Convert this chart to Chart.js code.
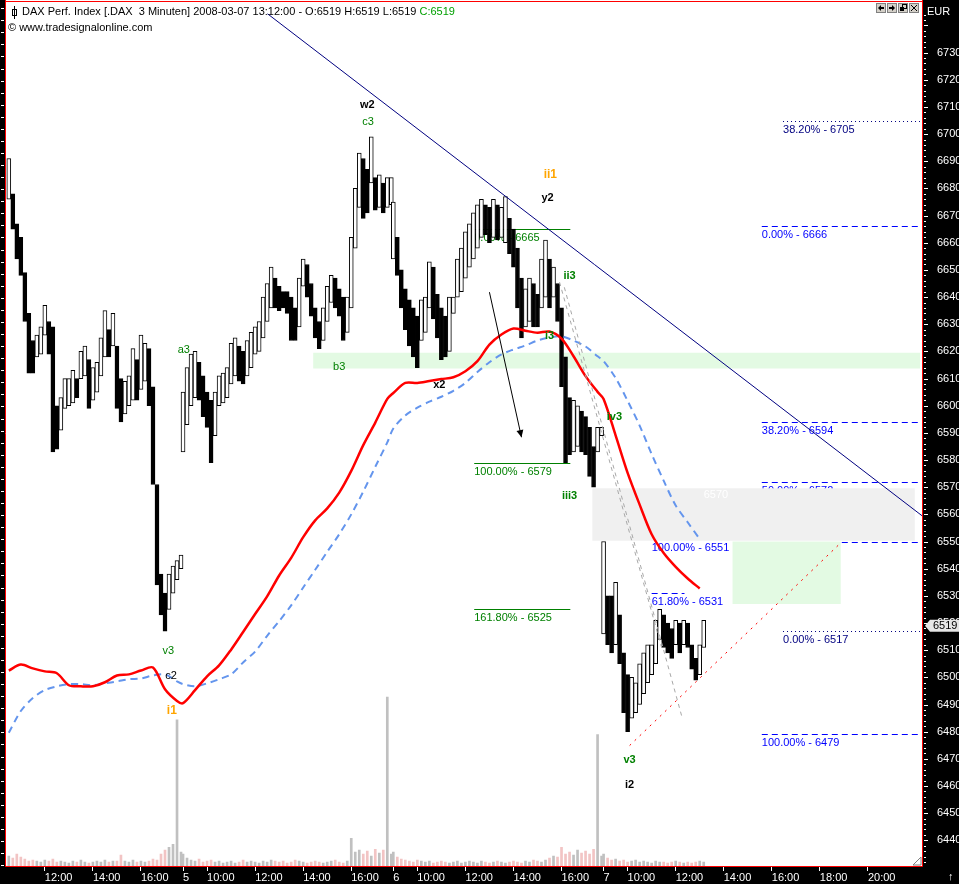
<!DOCTYPE html>
<html>
<head>
<meta charset="utf-8">
<script src="https://cdn.jsdelivr.net/npm/chart.js@4.4.1/dist/chart.umd.min.js"></script>
<style>
html, body { margin: 0; padding: 0; background: #fff; overflow: hidden; }
canvas { display: block; }
</style>
</head>
<body>
<canvas id="daxChart" width="959" height="884"></canvas>
<script>
const FONT = '"Liberation Sans", Arial, sans-serif';

// [low, high] per 10 minutes
const bars4 = [[6676,6691],[6665,6678],[6654,6667],[6648,6662],[6631,6649],[6612,6634],[6612,6624],[6618,6626],[6619,6629],[6626,6637],
	[6619,6631],[6583,6629],[6584,6600],[6591,6603],[6599,6610],[6600,6610],[6601,6613],[6603,6610],[6610,6620],[6611,6622],
	[6599,6617],[6602,6614],[6605,6616],[6611,6625],[6618,6635],[6618,6628],[6622,6634],[6599,6622],[6594,6610],[6597,6609],
	[6600,6611],[6602,6621],[6602,6617],[6606,6626],[6609,6623],[6600,6621],[6571,6607],[6534,6571],[6523,6538],[6517,6531],
	[6525,6538],[6531,6541],[6536,6543],[6540,6545]];
const bars5 = [[6583,6605],[6593,6614],[6600,6619],[6603,6620],[6602,6616],[6596,6611],[6592,6605],[6579,6602],[6589,6605],[6600,6611],
	[6601,6612],[6603,6614],[6608,6623],[6611,6625],[6609,6622],[6608,6620],[6611,6624],[6614,6627],[6619,6629],[6620,6631],
	[6625,6640],[6631,6645],[6636,6651],[6636,6647],[6635,6644],[6636,6642],[6634,6642],[6624,6640],[6624,6636],[6629,6647],
	[6644,6654],[6640,6652],[6633,6645],[6625,6636],[6621,6631],[6624,6636],[6631,6644],[6638,6648],[6636,6647],[6633,6643],
	[6624,6640],[6627,6640],[6636,6662],[6658,6680],[6673,6693],[6669,6691],[6671,6687],[6682,6699],[6672,6684],[6673,6685],
	[6671,6682],[6673,6684],[6674,6684]];
const bars6 = [[6654,6675],[6648,6662],[6636,6650],[6628,6643],[6622,6639],[6618,6636],[6614,6633],[6624,6639],[6627,6640],[6636,6653],
	[6632,6651],[6625,6641],[6617,6636],[6618,6633],[6620,6640],[6634,6640],[6640,6654],[6642,6658],[6647,6664],[6651,6667],
	[6654,6671],[6658,6674],[6662,6676],[6663,6674],[6660,6673],[6662,6676],[6661,6674],[6662,6673],[6660,6677],[6656,6669],
	[6651,6665],[6636,6658],[6625,6647],[6629,6643],[6631,6647],[6629,6645],[6629,6641],[6636,6654],[6640,6661],[6636,6654],
	[6640,6651],[6631,6645],[6607,6636],[6579,6618],[6582,6603],[6583,6602],[6585,6600],[6583,6598],[6582,6596],[6574,6592],
	[6570,6585],[6583,6592],[6589,6592]];
const bars7 = [[6516,6550],[6512,6530],[6509,6530],[6512,6535],[6505,6523],[6487,6509],[6480,6501],[6485,6500],[6487,6498],[6490,6505],
	[6494,6509],[6498,6512],[6501,6512],[6505,6521],[6514,6525],[6511,6523],[6509,6520],[6507,6518],[6512,6521],[6509,6520],
	[6512,6521],[6511,6520],[6503,6512],[6499,6507],[6501,6512],[6511,6521]];

// volume per 10 minutes (arbitrary units)
const vol4 = [10,8,12,9,7,5,6,5,4,6,5,7,4,5,4,3,5,4,6,4,3,4,5,4,6,4,5,5,11,5,4,6,4,5,4,5,7,6,12,16,19,22,148,14];
const vol5 = [12,8,6,5,7,4,5,6,4,5,3,4,5,3,4,6,4,5,4,3,5,4,6,5,4,5,3,4,6,5,4,3,4,5,4,3,4,5,6,4,3,5,28,14,16,12,15,10,17,13,16,171,12];
const vol6 = [14,9,7,6,5,4,6,5,4,5,3,4,5,4,3,4,5,3,4,5,4,3,5,4,3,4,5,4,3,4,5,4,3,5,4,6,5,4,6,8,10,9,19,12,14,11,16,13,15,12,17,133,10];
const vol7 = [12,8,6,7,5,6,4,5,6,4,5,4,3,5,4,4,3,4,5,4,3,4,3,4,5,4];

// moving averages, every 30 minutes
const maRed4 = [6502.5,6504.7,6503.3,6502.2,6501.5,6497.1,6496.7,6496.7,6498.2,6500.7,6501.1,6502.5,6503.6,6495.6,6491.3];
const maRed5 = [6490.5,6495.3,6500.4,6504.4,6510.2,6516.7,6523.3,6529.8,6537.5,6544.0,6551.6,6557.8,6562.2,6568.0,6576.0,6585.5,6593.8,6602.5];
const maRed6 = [6604.7,6608.4,6608.4,6609.1,6609.8,6610.5,6612.7,6616.4,6622.5,6626.2,6628.4,6627.6,6626.9,6627.3,6624.7,6618.2,6610.9,6605.1];
const maRed7 = [6602.5,6589.1,6575.3,6563.6,6552.7,6545.8,6540.7,6536.4,6532.7];
const maBlue4 = [6479.6,6487.6,6492.4,6495.3,6496.7,6497.5,6497.5,6497.1,6497.8,6498.5,6499.3,6499.6,6500.7,6501.1,6498.5];
const maBlue5 = [6497.5,6496.7,6497.8,6499.3,6501.1,6505.5,6509.5,6515.3,6520.7,6526.5,6533.1,6539.6,6546.2,6552.7,6560.0,6568.4,6577.5,6586.5];
const maBlue6 = [6591.6,6596.4,6599.3,6601.5,6603.3,6605.5,6608.4,6612.4,6616.0,6618.9,6620.7,6622.2,6624.0,6625.1,6625.5,6624.0,6621.8,6618.2];
const maBlue7 = [6616.4,6610.2,6601.8,6592.7,6582.2,6572.4,6563.3,6557.1,6550.9];

const sessions = [
	{ day: 4, start: '10:30', bars: bars4, vol: vol4, red: maRed4, blue: maBlue4 },
	{ day: 5, start: '09:00', bars: bars5, vol: vol5, red: maRed5, blue: maBlue5 },
	{ day: 6, start: '09:00', bars: bars6, vol: vol6, red: maRed6, blue: maBlue6 },
	{ day: 7, start: '09:00', bars: bars7, vol: vol7, red: maRed7, blue: maBlue7 },
];

// axis
const priceTicks = [6440,6450,6460,6470,6480,6490,6500,6510,6520,6530,6540,6550,6560,6570,6580,6590,6600,6610,6620,6630,6640,6650,6660,6670,6680,6690,6700,6710,6720,6730];
const timeTicks = [
	[4,'12:00','12:00'],[4,'14:00','14:00'],[4,'16:00','16:00'],
	[5,'09:00','5'],[5,'10:00','10:00'],[5,'12:00','12:00'],[5,'14:00','14:00'],[5,'16:00','16:00'],
	[6,'09:00','6'],[6,'10:00','10:00'],[6,'12:00','12:00'],[6,'14:00','14:00'],[6,'16:00','16:00'],
	[7,'09:00','7'],[7,'10:00','10:00'],[7,'12:00','12:00'],[7,'14:00','14:00'],[7,'16:00','16:00'],[7,'18:00','18:00'],[7,'20:00','20:00'],
];

// drawings
const zones = [
	{ from: [5,'14:25'], to: [7,'22:10'], top: 6619.5, bottom: 6613.7, color: '#e3fae3' },
	{ from: [6,'17:17'], to: [7,'21:57'], top: 6569.6, bottom: 6550.3, color: '#f0f0f0', text: '6570', textAt: [7,'13:10'] },
	{ from: [7,'14:22'], to: [7,'18:52'], top: 6550.0, bottom: 6527.0, color: '#e3fae3' },
];
const fibGreen = [['0.00%',6665],['100.00%',6579],['161.80%',6525]];
const fibRight = [['0.00%',6666],['38.20%',6594],['50.00%',6572],['61.80%',6550],['100.00%',6479]];
const fibOuter = [['38.20%',6705],['0.00%',6517]];
const fibMid = [['100.00%',6551],['61.80%',6531]];
const fibGroups = [
	{ levels: fibGreen, from: [6,'12:22'], to: [6,'16:22'], color: '#008000', dash: [], label: '#008000' },
	{ levels: fibRight, from: [7,'15:35'], to: [7,'22:05'], color: '#0000ff', dash: [6,4], label: '#0000ff' },
	{ levels: fibOuter, from: [7,'16:28'], to: [7,'22:10'], color: '#000080', dash: [1,3], label: '#000080' },
	{ levels: fibMid, from: [7,'11:00'], to: [7,'12:22'], color: '#0000ff', dash: [6,4], label: '#0000ff' },
];
const waveLabels = [
	['w2', 5,'16:40', 6710.9, '#000', true],
	['c3', 5,'16:42', 6704.4, '#008000', false],
	['a3', 5,'09:02', 6620.7, '#008000', false],
	['b3', 5,'15:30', 6614.2, '#008000', false],
	['x2', 6,'10:55', 6607.6, '#000', true],
	['ii1', 6,'15:32', 6685.1, '#ffa500', true],
	['y2', 6,'15:25', 6676.4, '#000', true],
	['ii3', 6,'16:20', 6647.6, '#008000', true],
	['i3', 6,'15:30', 6625.5, '#008000', true],
	['iv3', 7,'09:27', 6596.0, '#008000', true],
	['iii3', 6,'16:20', 6566.9, '#008000', true],
	['v3', 7,'10:05', 6469.5, '#008000', true],
	['i2', 7,'10:05', 6460.4, '#000', true],
	['v3', 4,'17:08', 6509.8, '#008000', false],
	['c2', 4,'17:15', 6500.4, '#000', false],
	['i1', 4,'17:17', 6487.6, '#ffa500', true],
];
const trendLine = [[5,'12:30',6744.4],[7,'22:15',6559.5]];
const supportLine = [[7,'10:05',6474.9],[7,'18:52',6549.5]];
const grayLineA = [[6,'15:55',6645.5],[7,'11:25',6510.9]];
const grayLineB = [[6,'16:07',6643.6],[7,'12:17',6484.7]];
const arrowLine = [[6,'13:00',6641.8],[6,'14:20',6588.4]];

// trading time in hours from 5 March 09:00, sessions 09:00-17:45
function tpos(day, hhmm) {
	const [h, m] = hhmm.split(':').map(Number);
	return (day - 5) * 8.75 + h + m / 60 - 9;
}
const pt = (p) => ({ x: tpos(p[0], p[1]), y: p[2] });

const candles = [], candleFill = [], volume = [], volColors = [], redMa = [], blueMa = [];
sessions.forEach((s) => {
	const t0 = tpos(s.day, s.start);
	s.bars.forEach((b, i) => {
		const prev = i > 0 ? s.bars[i - 1] : b;
		const falling = b[0] + b[1] < prev[0] + prev[1];
		candles.push({ x: t0 + i / 6, y: b });
		candleFill.push(falling ? '#000' : '#fff');
		volume.push({ x: t0 + i / 6, y: s.vol[i] });
		volColors.push(falling ? '#f2c4c4' : '#c0c0c0');
	});
	s.red.forEach((v, i) => redMa.push({ x: t0 + i / 2, y: v }));
	s.blue.forEach((v, i) => blueMa.push({ x: t0 + i / 2, y: v }));
});

const tickLabelFor = {};
timeTicks.forEach((t) => { tickLabelFor[tpos(t[0], t[1]).toFixed(4)] = t[2]; });

const overlay = {
	id: 'overlay',
	beforeDraw(chart) {
		const { ctx, chartArea: a, width, height } = chart;
		ctx.save();
		ctx.fillStyle = '#fff';
		ctx.fillRect(0, 0, width, height);
		ctx.fillStyle = '#000';
		ctx.fillRect(a.right, 0, width - a.right, height);
		ctx.fillRect(0, a.bottom, width, height - a.bottom);
		ctx.fillRect(0, 0, a.left - 1, height);
		ctx.restore();
	},
	beforeDatasetsDraw(chart) {
		const { ctx, chartArea: a, scales: { x, y } } = chart;
		ctx.save();
		ctx.beginPath();
		ctx.rect(a.left, a.top, a.right - a.left, a.bottom - a.top);
		ctx.clip();
		// fib lines first, zones cover the 61.8 line like in the source
		fibGroups.forEach((g) => {
			const x1 = x.getPixelForValue(tpos(...g.from));
			const x2 = x.getPixelForValue(tpos(...g.to));
			g.levels.forEach(([pct, v]) => {
				const yy = Math.round(y.getPixelForValue(v)) + 0.5;
				ctx.strokeStyle = g.color;
				ctx.lineWidth = 1;
				ctx.setLineDash(g.dash);
				ctx.beginPath();
				ctx.moveTo(x1, yy);
				ctx.lineTo(x2, yy);
				ctx.stroke();
				ctx.setLineDash([]);
				ctx.fillStyle = g.label;
				ctx.font = '11px ' + FONT;
				ctx.textBaseline = 'top';
				ctx.textAlign = 'left';
				ctx.fillText(pct + ' - ' + v, x1, yy + 3);
			});
		});
		zones.forEach((z) => {
			const x1 = x.getPixelForValue(tpos(...z.from));
			const x2 = x.getPixelForValue(tpos(...z.to));
			const y1 = y.getPixelForValue(z.top);
			const y2 = y.getPixelForValue(z.bottom);
			ctx.fillStyle = z.color;
			ctx.fillRect(x1, y1, x2 - x1, y2 - y1);
			if (z.text) {
				ctx.fillStyle = '#fff';
				ctx.font = '11px ' + FONT;
				ctx.textBaseline = 'middle';
				ctx.fillText(z.text, x.getPixelForValue(tpos(...z.textAt)), y1 + 7);
			}
		});
		ctx.restore();
	},
	afterDatasetsDraw(chart) {
		const { ctx, chartArea: a, scales: { x, y } } = chart;
		ctx.save();
		// arrow
		const p1 = pt(arrowLine[0]), p2 = pt(arrowLine[1]);
		const ax1 = x.getPixelForValue(p1.x), ay1 = y.getPixelForValue(p1.y);
		const ax2 = x.getPixelForValue(p2.x), ay2 = y.getPixelForValue(p2.y);
		ctx.strokeStyle = '#000';
		ctx.lineWidth = 1;
		ctx.beginPath();
		ctx.moveTo(ax1, ay1);
		ctx.lineTo(ax2, ay2);
		ctx.stroke();
		const ang = Math.atan2(ay2 - ay1, ax2 - ax1);
		ctx.beginPath();
		ctx.moveTo(ax2, ay2);
		ctx.lineTo(ax2 - 8 * Math.cos(ang - 0.45), ay2 - 8 * Math.sin(ang - 0.45));
		ctx.lineTo(ax2 - 8 * Math.cos(ang + 0.45), ay2 - 8 * Math.sin(ang + 0.45));
		ctx.closePath();
		ctx.fillStyle = '#000';
		ctx.fill();
		// wave labels
		ctx.textAlign = 'center';
		ctx.textBaseline = 'middle';
		waveLabels.forEach(([t, d, hm, v, c, bold]) => {
			ctx.font = (bold ? 'bold ' : '') + (c === '#ffa500' ? '12px ' : '11px ') + FONT;
			ctx.fillStyle = c;
			ctx.fillText(t, x.getPixelForValue(tpos(d, hm)), y.getPixelForValue(v));
		});
		// red frame
		ctx.strokeStyle = '#ff0000';
		ctx.lineWidth = 1;
		ctx.beginPath();
		ctx.moveTo(a.left - 0.5, 0);
		ctx.lineTo(a.left - 0.5, a.bottom + 0.5);
		ctx.lineTo(a.right + 0.5, a.bottom + 0.5);
		ctx.lineTo(a.right + 0.5, 0);
		ctx.moveTo(a.left - 0.5, 1.5);
		ctx.lineTo(a.right + 0.5, 1.5);
		ctx.stroke();
		ctx.restore();
	},
	afterDraw(chart) {
		const { ctx, chartArea: a, scales: { y }, width } = chart;
		ctx.save();
		// title
		ctx.font = '11px ' + FONT;
		ctx.textBaseline = 'middle';
		ctx.textAlign = 'left';
		ctx.fillStyle = '#000';
		const head = 'DAX Perf. Index [.DAX  3 Minuten] 2008-03-07 13:12:00 - O:6519 H:6519 L:6519 ';
		ctx.fillText(head, 22, 12);
		ctx.fillStyle = '#00a000';
		ctx.fillText('C:6519', 22 + ctx.measureText(head).width, 12);
		ctx.fillStyle = '#000';
		ctx.fillText('\u00a9 www.tradesignalonline.com', 8, 28);
		ctx.strokeStyle = '#000';
		ctx.beginPath();
		ctx.moveTo(14.5, 6); ctx.lineTo(14.5, 19);
		ctx.stroke();
		ctx.strokeRect(12.5, 9.5, 4, 6);
		// window buttons
		for (let i = 0; i < 4; i++) {
			const bx = 876 + i * 11;
			ctx.fillStyle = '#d4d0c8';
			ctx.fillRect(bx, 3, 10, 10);
			ctx.strokeStyle = '#808080';
			ctx.strokeRect(bx + 0.5, 3.5, 9, 9);
			ctx.fillStyle = '#000';
			ctx.strokeStyle = '#000';
			ctx.beginPath();
			if (i === 0) { ctx.moveTo(bx + 2, 8); ctx.lineTo(bx + 5, 5); ctx.lineTo(bx + 5, 11); ctx.fill(); ctx.fillRect(bx + 5, 7, 3, 2); }
			if (i === 1) { ctx.moveTo(bx + 8, 8); ctx.lineTo(bx + 5, 5); ctx.lineTo(bx + 5, 11); ctx.fill(); ctx.fillRect(bx + 2, 7, 3, 2); }
			if (i === 2) { ctx.strokeRect(bx + 4.5, 4.5, 4, 4); ctx.fillRect(bx + 2, 7, 4, 4); }
			if (i === 3) { ctx.moveTo(bx + 2, 5); ctx.lineTo(bx + 8, 11); ctx.moveTo(bx + 8, 5); ctx.lineTo(bx + 2, 11); ctx.stroke(); }
		}
		// right axis marks
		ctx.fillStyle = '#fff';
		for (let v = 6432; v <= 6744; v += 2) {
			const yy = Math.round(y.getPixelForValue(v));
			const major = v % 10 === 0;
			ctx.fillRect(a.right + 2, yy, major ? 4 : 2, 1);
		}
		ctx.fillText('EUR', a.right + 5, 12);
		// left strip marks
		for (let yy = 153 - 12.07 * 12; yy < a.bottom; yy += 12.07) ctx.fillRect(1, Math.round(yy), 3, 1);
		// last price marker
		const ly = y.getPixelForValue(6519);
		ctx.fillStyle = '#e6e6e6';
		ctx.beginPath();
		ctx.moveTo(a.right + 3, ly);
		ctx.lineTo(a.right + 8, ly - 6);
		ctx.lineTo(width, ly - 6);
		ctx.lineTo(width, ly + 6);
		ctx.lineTo(a.right + 8, ly + 6);
		ctx.closePath();
		ctx.fill();
		ctx.fillStyle = '#000';
		ctx.fillText('6519', a.right + 11, ly);
		// corner
		ctx.fillStyle = '#fff';
		ctx.fillText('\u2191', 948, 877);
		ctx.strokeStyle = '#808080';
		ctx.beginPath();
		ctx.moveTo(a.right - 1, a.bottom - 9);
		ctx.lineTo(a.right - 9, a.bottom - 1);
		ctx.lineTo(a.right - 1, a.bottom - 1);
		ctx.closePath();
		ctx.stroke();
		ctx.restore();
	},
};

new Chart(document.getElementById('daxChart'), {
	data: {
		datasets: [
			{ type: 'line', data: [pt(trendLine[0]), pt(trendLine[1])], borderColor: '#000080', borderWidth: 1, pointRadius: 0, order: 1 },
			{ type: 'line', data: [pt(supportLine[0]), pt(supportLine[1])], borderColor: '#ff0000', borderWidth: 1, borderDash: [2, 5], pointRadius: 0, order: 1 },
			{ type: 'line', data: [pt(grayLineA[0]), pt(grayLineA[1])], borderColor: '#a8a8a8', borderWidth: 1, borderDash: [4, 4], pointRadius: 0, order: 1 },
			{ type: 'line', data: [pt(grayLineB[0]), pt(grayLineB[1])], borderColor: '#a8a8a8', borderWidth: 1, borderDash: [4, 4], pointRadius: 0, order: 1 },
			{ type: 'line', data: redMa, borderColor: '#ff0000', borderWidth: 2.5, pointRadius: 0, tension: 0.3, order: 2 },
			{ type: 'line', data: blueMa, borderColor: '#6495ed', borderWidth: 2, borderDash: [7, 5], pointRadius: 0, tension: 0.3, order: 3 },
			{ type: 'bar', data: candles, backgroundColor: candleFill, borderColor: '#000', borderWidth: 1, borderSkipped: false, barThickness: 4, grouped: false, order: 4 },
			{ type: 'bar', data: volume, yAxisID: 'vol', backgroundColor: volColors, barThickness: 2, grouped: false, order: 6 },
		],
	},
	options: {
		responsive: false,
		animation: false,
		events: [],
		layout: { padding: { left: 6, top: 3, right: 0, bottom: 0 } },
		plugins: { legend: { display: false }, tooltip: { enabled: false } },
		scales: {
			x: {
				type: 'linear',
				offset: false,
				min: tpos(4, '10:23'),
				max: tpos(7, '22:15'),
				afterBuildTicks: (s) => { s.ticks = timeTicks.map((t) => ({ value: tpos(t[0], t[1]) })); },
				afterFit: (s) => { s.height = 18; },
				ticks: {
					color: '#fff', align: 'start', maxRotation: 0, autoSkip: false, padding: 0,
					font: { family: FONT, size: 11 },
					callback: (v) => tickLabelFor[Number(v).toFixed(4)] || '',
				},
				grid: { drawOnChartArea: false, color: '#fff', tickLength: 5, offset: false },
				border: { display: false },
			},
			y: {
				position: 'right',
				min: 6430.55,
				max: 6744.36,
				afterBuildTicks: (s) => { s.ticks = priceTicks.map((v) => ({ value: v })); },
				afterFit: (s) => { s.width = 37; },
				ticks: { color: '#fff', padding: 7, font: { family: FONT, size: 11 }, callback: (v) => String(v) },
				grid: { display: false },
				border: { display: false },
			},
			vol: { display: false, min: 0, max: 863 },
		},
	},
	plugins: [overlay],
});
</script>
</body>
</html>
